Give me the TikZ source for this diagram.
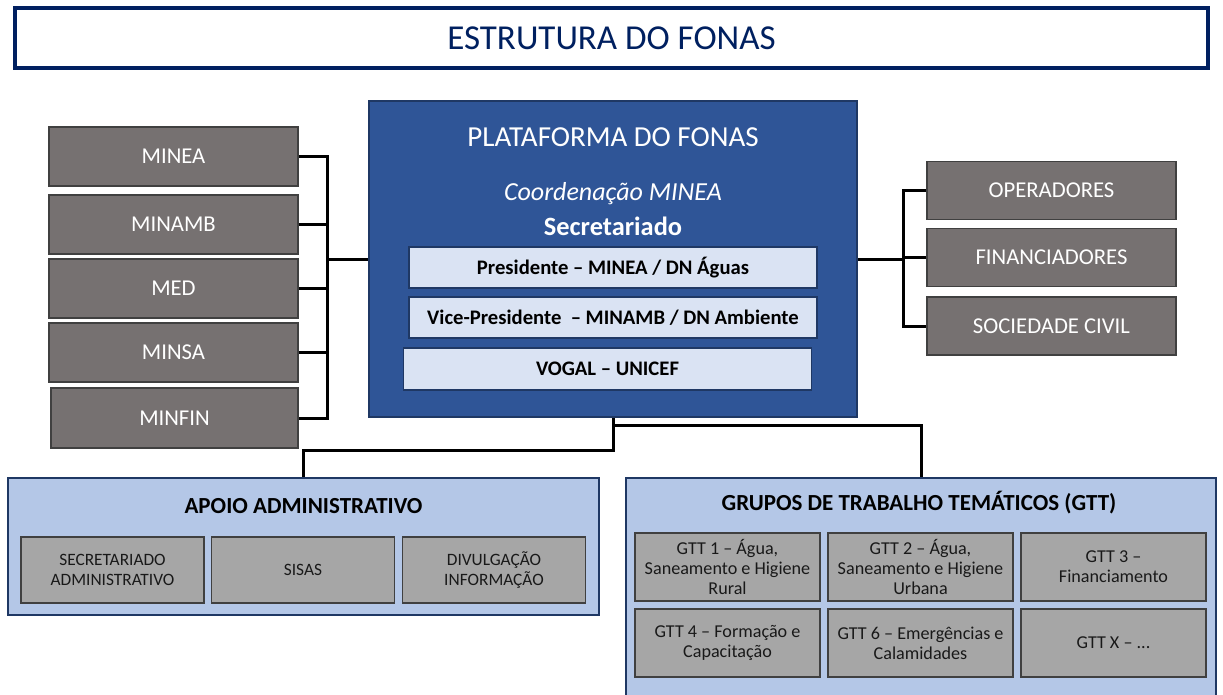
\documentclass[tikz,border=0pt]{standalone}
\usepackage{fontspec}
\setmainfont{Carlito}

\definecolor{navy}{HTML}{002060}
\definecolor{platblue}{HTML}{2F5597}
\definecolor{platedge}{HTML}{1F3864}
\definecolor{paleblue}{HTML}{DAE3F3}
\definecolor{panelblue}{HTML}{B4C7E7}
\definecolor{boxgray}{HTML}{767171}
\definecolor{cellgray}{HTML}{A6A6A6}

\tikzset{
  member/.style={draw=black!75, line width=0.8pt, fill=boxgray, text=white,
    minimum width=186.75pt, minimum height=44.25pt, inner sep=0pt,
    font=\fontsize{17}{20}\selectfont},
  office/.style={draw=platedge, line width=0.8pt, fill=paleblue,
    minimum width=306pt, minimum height=30.75pt, inner sep=0pt,
    font=\fontsize{15.5}{18}\selectfont\bfseries},
  panel/.style={draw=platedge, line width=1.2pt, fill=panelblue},
  cell/.style={draw=black!75, line width=0.8pt, fill=cellgray, text=black!90,
    minimum width=137.25pt, minimum height=49.5pt, inner sep=0pt, align=center},
  link/.style={line width=2.25pt, black},
}

\begin{document}
\begin{tikzpicture}[x=0.75pt,y=-0.75pt]
  \path[use as bounding box, fill=white] (0,0) rectangle (1223,695);

  \node[draw=navy, line width=3pt, minimum width=894.75pt, minimum height=45pt,
    text=navy, font=\fontsize{26.25}{30}\selectfont] (title) at (611.5,38) {ESTRUTURA DO FONAS};

  % plataforma
  \node[draw=platedge, line width=1.5pt, fill=platblue, minimum width=366pt,
    minimum height=237pt] (plat) at (613,259) {};
  \node[text=white, font=\fontsize{21.75}{26}\selectfont] (platname) at (613,137) {PLATAFORMA DO FONAS};
  \node[text=white, font=\fontsize{19.5}{23}\selectfont\itshape] (coord) at (613,194) {Coordenação MINEA};
  \node[text=white, font=\fontsize{19.8}{23}\selectfont\bfseries] (secr) at (613,226) {Secretariado};
  \node[office] (pres) at (613,267.5) {Presidente – MINEA / DN Águas};
  \node[office] (vice) at (613,317.5) {Vice-Presidente~ – MINAMB / DN Ambiente};
  \node[office, minimum height=31.5pt] (vogal) at (607.5,369) {VOGAL – UNICEF};

  % ministerios
  \foreach \n/\y in {MINEA/156.5,MINAMB/224.5,MED/288.5,MINSA/352.5}
    \node[member] (\n) at (173.5,\y) {\n};
  \node[member, minimum width=185.25pt, minimum height=45pt] (MINFIN) at (174.5,418) {MINFIN};

  % parceiros
  \foreach \n/\t/\y in {oper/OPERADORES/190.5,fin/FINANCIADORES/257.5,soc/SOCIEDADE CIVIL/326}
    \node[member, minimum height=43.5pt] (\n) at (1051.5,\y) {\t};

  \coordinate (lj) at (327,259);
  \draw[link] (MINEA.east) -| (MINFIN.east -| lj) -- (MINFIN.east);
  \foreach \n in {MINAMB,MED,MINSA}
    \draw[link] (\n.east) -- (\n.east -| lj);
  \draw[link] (lj) -- (lj -| plat.west);

  \coordinate (rj) at (903,259);
  \draw[link] (oper.west) -| (soc.west -| rj) -- (soc.west);
  \draw[link] (fin.west) -- (fin.west -| rj);
  \draw[link] (plat.east) -- (plat.east -| rj);

  % apoio administrativo
  \node[panel, minimum width=443.25pt, minimum height=102.75pt] (apoio) at (303.5,546.5) {};
  \node[font=\fontsize{17.25}{20}\selectfont\bfseries] (apoiotitle) at (303.5,506) {APOIO ADMINISTRATIVO};
  \foreach \n/\x/\t in {sec/112.5/{SECRETARIADO\\ADMINISTRATIVO},sis/303/{SISAS},div/494/{DIVULGAÇÃO\\INFORMAÇÃO}}
    \node[cell, font=\fontsize{13}{15.5}\selectfont] (\n) at (\x,570) {\t};

  % grupos de trabalho
  \node[panel, minimum width=442.5pt, minimum height=165pt] (gtt) at (921,588) {};
  \node[font=\fontsize{17.25}{20}\selectfont\bfseries] (gtttitle) at (919,503) {GRUPOS DE TRABALHO TEMÁTICOS (GTT)};
  \foreach \n/\x/\y/\t in {
      g1/727.5/567/{GTT 1 – Água,\\Saneamento e Higiene\\Rural},
      g2/920.5/567/{GTT 2 – Água,\\Saneamento e Higiene\\Urbana},
      g3/1113.5/567/{GTT 3 –\\Financiamento},
      g4/727.5/643/{GTT 4 – Formação e\\Capacitação},
      g6/920.5/643/{GTT 6 – Emergências e\\Calamidades},
      gx/1113.5/643/{GTT X – ...}}
    \node[cell, minimum width=138.75pt, minimum height=51pt,
      font=\fontsize{13.6}{15}\selectfont] (\n) at (\x,\y) {\t};

  \coordinate (bl) at (303.5,450);
  \coordinate (br) at (921,425);
  \draw[link] (plat.south) |- (bl) -- (apoio.north);
  \draw[link] (plat.south |- br) -- (br) -- (gtt.north);
\end{tikzpicture}
\end{document}
